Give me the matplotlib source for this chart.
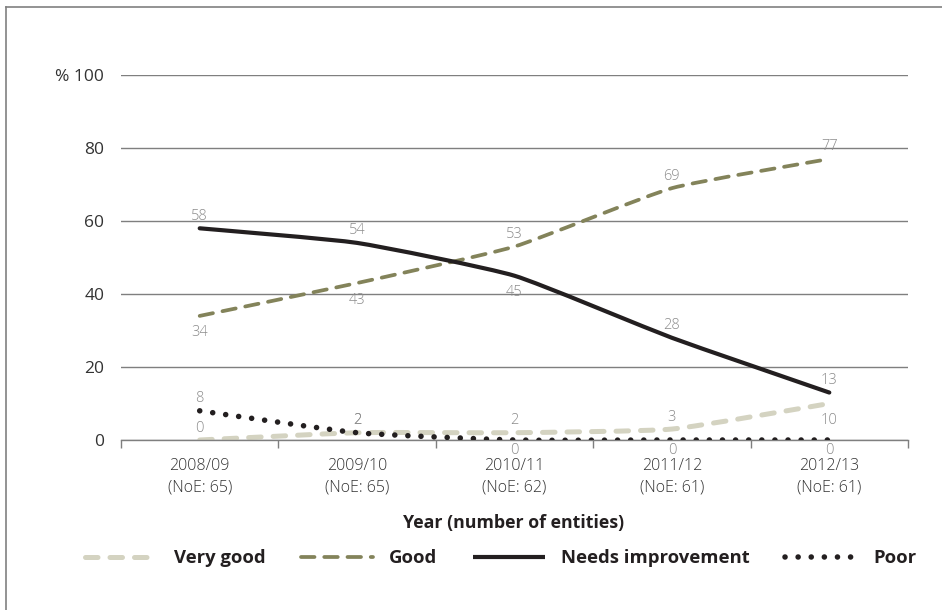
import matplotlib
matplotlib.use("Agg")
import matplotlib.pyplot as plt
from matplotlib import font_manager
from matplotlib.path import Path
from matplotlib.patches import PathPatch
from matplotlib.lines import Line2D
import numpy as np

# ---- data -----------------------------------------------------------
years = ["2008/09", "2009/10", "2010/11", "2011/12", "2012/13"]
entities = [65, 65, 62, 61, 61]
very_good = [0, 2, 2, 3, 10]
good = [34, 43, 53, 69, 77]
needs_improvement = [58, 54, 45, 28, 13]
poor = [8, 2, 0, 0, 0]
y_ticks = [0, 20, 40, 60, 80, 100]

# label placement for each series ("a" above the point, "b" below, "u" just under)
label_pos = {
    "Very good": ["a", "a", "a", "a", "b"],
    "Good": ["b", "b", "a", "a", "a"],
    "Needs improvement": ["a", "a", "b", "a", "a"],
    "Poor": ["a", "a", "u", "u", "u"],
}

# ---- fonts ----------------------------------------------------------
available = {f.name for f in font_manager.fontManager.ttflist}


def pick(*names):
    for n in names:
        if n in available:
            return n
    return "DejaVu Sans"


FONT = pick("Open Sans", "Noto Sans", "Lato", "DejaVu Sans")
SMOOTH = 0.08  # Bezier handle length relative to neighbour spacing


def smooth_path(xs, ys):
    """Cubic Bezier path through the points with gently rounded joints."""
    pts = np.column_stack([xs, ys]).astype(float)
    n = len(pts)
    verts = [pts[0]]
    codes = [Path.MOVETO]
    for i in range(n - 1):
        p0 = pts[max(i - 1, 0)]
        p1 = pts[i]
        p2 = pts[i + 1]
        p3 = pts[min(i + 2, n - 1)]
        c1 = p1 + (p2 - p0) * SMOOTH
        c2 = p2 - (p3 - p1) * SMOOTH
        verts += [c1, c2, p2]
        codes += [Path.CURVE4] * 3
    return Path(verts, codes)


W, H = 942, 610
fig = plt.figure(figsize=(W / 100, H / 100), dpi=100)
ax = fig.add_axes([121 / W, 1 - 440 / H, (908 - 121) / W, (440 - 75) / H])

x = np.arange(len(years))

styles = {
    "Very good": dict(color="#d4d3c1", lw=3.6, ls=(0, (2.5, 2.4)), cap="round", z=2),
    "Good": dict(color="#83835a", lw=2.7, ls=(0, (3.6, 2.6)), cap="round", z=3),
    "Needs improvement": dict(color="#231f20", lw=3.0, ls="solid", cap="round", z=4),
    "Poor": dict(color="#231f20", lw=4.0, ls=(0, (0.01, 2.35)), cap="round", z=5),
}
series = {
    "Very good": very_good,
    "Good": good,
    "Needs improvement": needs_improvement,
    "Poor": poor,
}

for name, vals in series.items():
    st = styles[name]
    patch = PathPatch(smooth_path(x, vals), fill=False, edgecolor=st["color"],
                      lw=st["lw"], linestyle=st["ls"], zorder=st["z"])
    patch.set_capstyle(st["cap"])
    patch.set_joinstyle("round")
    ax.add_patch(patch)

# value labels
offsets_px = {"a": 12, "b": -17, "u": -10}
for name, vals in series.items():
    for xi, v, p in zip(x, vals, label_pos[name]):
        ax.annotate(str(v), (xi, v), xytext=(0, offsets_px[p] * 0.72),
                    textcoords="offset points", ha="center", va="center",
                    fontsize=10.5, color="#8c8c8c", family=FONT,
                    fontweight="light", zorder=6)

ax.set_xlim(-0.5, len(years) - 0.5)
ax.set_ylim(0, 100)

# gridlines and axes
ax.set_yticks(y_ticks)
ax.set_yticklabels([("% " + str(t)) if t == 100 else str(t) for t in y_ticks],
                   fontsize=12.5, color="#333333", family=FONT)
ax.tick_params(axis="y", length=0, pad=12)
ax.yaxis.grid(True, color="#7f7f7f", lw=1.0)
ax.set_axisbelow(True)

ax.set_xticks(x)
ax.set_xticklabels([f"{y}\n(NoE: {n})" for y, n in zip(years, entities)],
                   fontsize=11.5, color="#333333", family=FONT, fontweight="light",
                   linespacing=1.45)
ax.tick_params(axis="x", which="major", length=0, pad=13)
ax.set_xticks(np.arange(-0.5, len(years)), minor=True)
ax.tick_params(axis="x", which="minor", length=6, width=1, color="#7f7f7f", direction="out")

for side in ["top", "right", "left"]:
    ax.spines[side].set_visible(False)
ax.spines["bottom"].set_color("#7f7f7f")
ax.spines["bottom"].set_linewidth(1.0)

fig.text(514 / W, 1 - 523 / H, "Year (number of entities)", ha="center", va="center",
         fontsize=12.8, fontweight="bold", color="#231f20", family=FONT)

handles = []
for name in series:
    st = styles[name]
    h = Line2D([], [], color=st["color"], lw=st["lw"], linestyle=st["ls"],
               dash_capstyle=st["cap"], solid_capstyle="butt")
    handles.append(h)
leg = fig.legend(handles, list(series.keys()), loc="center", ncol=4,
                 bbox_to_anchor=(501 / W, 1 - 558 / H), frameon=False,
                 handlelength=3.9, handletextpad=0.9, columnspacing=1.9,
                 prop={"family": FONT, "weight": "bold", "size": 13.3})
for t in leg.get_texts():
    t.set_color("#231f20")

# frame lines along the top and left edges
fig.add_artist(Line2D([6 / W, 6 / W], [0, 1 - 7 / H], color="#808080", lw=1.2,
                      transform=fig.transFigure))
fig.add_artist(Line2D([6 / W, 1], [1 - 7 / H, 1 - 7 / H], color="#808080", lw=1.2,
                      transform=fig.transFigure))

fig.savefig("out.png", dpi=100)
